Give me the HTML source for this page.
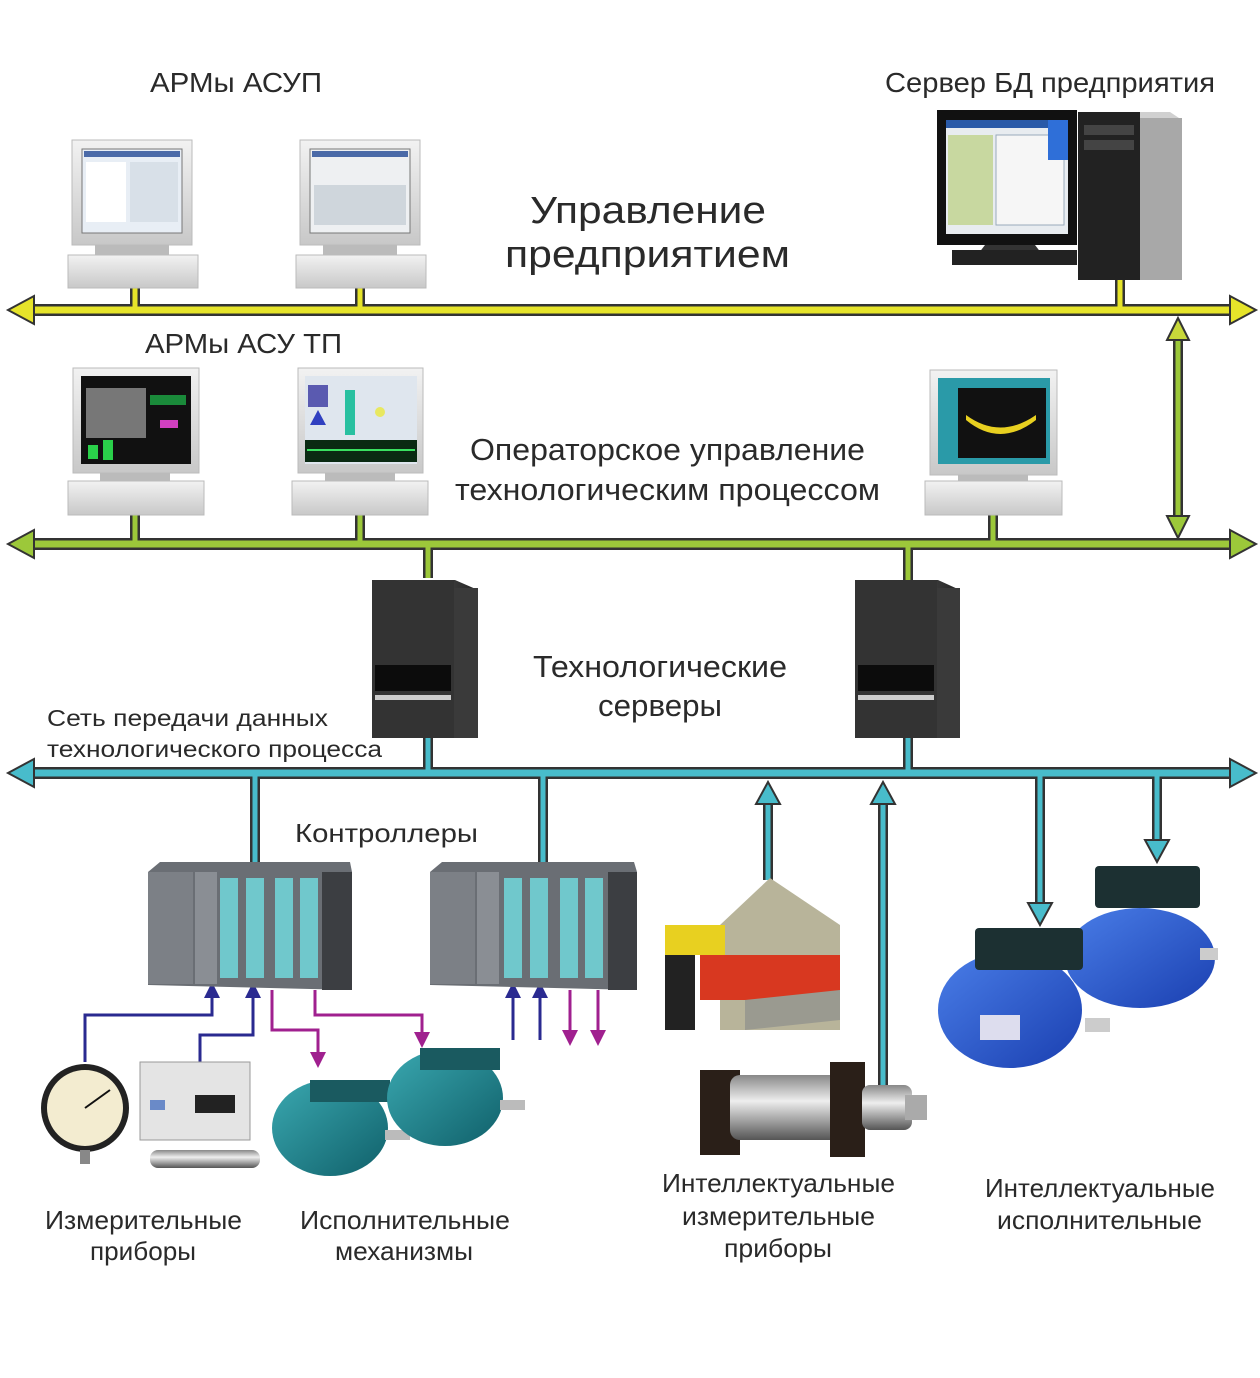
<!DOCTYPE html>
<html><head><meta charset="utf-8"><style>
html,body{margin:0;padding:0;background:#fff;}
svg{display:block;}
text{font-family:"Liberation Sans",sans-serif;fill:#2a2a2a;}
</style></head><body>
<svg width="1260" height="1378" viewBox="0 0 1260 1378" xmlns="http://www.w3.org/2000/svg">
<defs>
<linearGradient id="mon" x1="0" y1="0" x2="0" y2="1"><stop offset="0" stop-color="#f2f2f2"/><stop offset="1" stop-color="#c8c8c8"/></linearGradient>
<linearGradient id="tower" x1="0" y1="0" x2="1" y2="0"><stop offset="0" stop-color="#2a2a2a"/><stop offset="0.6" stop-color="#4a4a4a"/><stop offset="1" stop-color="#222"/></linearGradient>
<linearGradient id="blue" x1="0" y1="0" x2="1" y2="1"><stop offset="0" stop-color="#4a7ee8"/><stop offset="1" stop-color="#1a3fb0"/></linearGradient>
<linearGradient id="teal" x1="0" y1="0" x2="1" y2="1"><stop offset="0" stop-color="#3aa8b0"/><stop offset="1" stop-color="#10606a"/></linearGradient>
<linearGradient id="steel" x1="0" y1="0" x2="0" y2="1"><stop offset="0" stop-color="#888"/><stop offset="0.4" stop-color="#eee"/><stop offset="1" stop-color="#555"/></linearGradient>
</defs>

<!-- ===== connectors: dark outlines ===== -->
<g stroke="#333" stroke-width="12" fill="none" stroke-linecap="butt">
<line x1="28" y1="310" x2="1236" y2="310"/>
<line x1="28" y1="544" x2="1236" y2="544"/>
<line x1="28" y1="773" x2="1236" y2="773"/>
</g>
<g stroke="#333" stroke-width="10" fill="none">
<line x1="135" y1="288" x2="135" y2="306"/><line x1="360" y1="288" x2="360" y2="306"/><line x1="1120" y1="278" x2="1120" y2="306"/>
<line x1="135" y1="514" x2="135" y2="540"/><line x1="360" y1="514" x2="360" y2="540"/><line x1="993" y1="514" x2="993" y2="540"/>
<line x1="1178" y1="338" x2="1178" y2="518"/>
<line x1="428" y1="548" x2="428" y2="578"/><line x1="908" y1="548" x2="908" y2="580"/>
<line x1="428" y1="736" x2="428" y2="770"/><line x1="908" y1="736" x2="908" y2="770"/>
<line x1="255" y1="777" x2="255" y2="868"/><line x1="543" y1="777" x2="543" y2="866"/>
<line x1="768" y1="800" x2="768" y2="880"/><line x1="883" y1="800" x2="883" y2="1105"/>
<line x1="1040" y1="777" x2="1040" y2="905"/><line x1="1157" y1="777" x2="1157" y2="842"/>
</g>
<!-- colored fills -->
<g fill="none">
<line x1="28" y1="310" x2="1236" y2="310" stroke="#e6e42a" stroke-width="7"/>
<line x1="28" y1="544" x2="1236" y2="544" stroke="#9cc83a" stroke-width="7"/>
<line x1="28" y1="773" x2="1236" y2="773" stroke="#48bccb" stroke-width="7"/>
<g stroke="#e6e42a" stroke-width="5">
<line x1="135" y1="288" x2="135" y2="310"/><line x1="360" y1="288" x2="360" y2="310"/><line x1="1120" y1="278" x2="1120" y2="310"/>
</g>
<g stroke="#9cc83a" stroke-width="5">
<line x1="135" y1="514" x2="135" y2="544"/><line x1="360" y1="514" x2="360" y2="544"/><line x1="993" y1="514" x2="993" y2="544"/>
<line x1="1178" y1="336" x2="1178" y2="520"/>
<line x1="428" y1="544" x2="428" y2="578"/><line x1="908" y1="544" x2="908" y2="580"/>
</g>
<g stroke="#48bccb" stroke-width="5">
<line x1="428" y1="736" x2="428" y2="773"/><line x1="908" y1="736" x2="908" y2="773"/>
<line x1="255" y1="773" x2="255" y2="868"/><line x1="543" y1="773" x2="543" y2="866"/>
<line x1="768" y1="800" x2="768" y2="880"/><line x1="883" y1="800" x2="883" y2="1105"/>
<line x1="1040" y1="773" x2="1040" y2="905"/><line x1="1157" y1="773" x2="1157" y2="842"/>
</g>
</g>
<!-- arrowheads -->
<g stroke="#333" stroke-width="2">
<polygon points="8,310 34,296 34,324" fill="#e6e42a"/><polygon points="1256,310 1230,296 1230,324" fill="#e6e42a"/>
<polygon points="8,544 34,530 34,558" fill="#9cc83a"/><polygon points="1256,544 1230,530 1230,558" fill="#9cc83a"/>
<polygon points="8,773 34,759 34,787" fill="#48bccb"/><polygon points="1256,773 1230,759 1230,787" fill="#48bccb"/>
<polygon points="1178,318 1167,340 1189,340" fill="#c8d83a"/><polygon points="1178,538 1167,516 1189,516" fill="#9cc83a"/>
<polygon points="768,782 756,804 780,804" fill="#48bccb"/><polygon points="883,782 871,804 895,804" fill="#48bccb"/>
<polygon points="1040,925 1028,903 1052,903" fill="#48bccb"/><polygon points="1157,862 1145,840 1169,840" fill="#48bccb"/>
</g>

<!-- small IO arrows -->
<g fill="none" stroke-width="3">
<path d="M85 1062 V1015 H212 V995" stroke="#2a2a90"/>
<path d="M200 1062 V1035 H253 V995" stroke="#2a2a90"/>
<path d="M272 990 V1030 H318 V1055" stroke="#a0208f"/>
<path d="M315 990 V1015 H422 V1035" stroke="#a0208f"/>
<path d="M513 1040 V995 M540 1040 V995" stroke="#2a2a90"/>
<path d="M570 990 V1035 M598 990 V1035" stroke="#a0208f"/>
</g>
<g>
<polygon points="212,982 204,998 220,998" fill="#2a2a90"/><polygon points="253,982 245,998 261,998" fill="#2a2a90"/>
<polygon points="513,982 505,998 521,998" fill="#2a2a90"/><polygon points="540,982 532,998 548,998" fill="#2a2a90"/>
<polygon points="318,1068 310,1052 326,1052" fill="#a0208f"/><polygon points="422,1048 414,1032 430,1032" fill="#a0208f"/>
<polygon points="570,1046 562,1030 578,1030" fill="#a0208f"/><polygon points="598,1046 590,1030 606,1030" fill="#a0208f"/>
</g>

<!-- ===== top monitors ===== -->
<g>
<rect x="72" y="140" width="120" height="105" fill="url(#mon)" stroke="#bbb"/>
<rect x="82" y="149" width="100" height="84" fill="#e8eef5" stroke="#777"/>
<rect x="84" y="151" width="96" height="6" fill="#4a6aa8"/>
<rect x="86" y="162" width="40" height="60" fill="#fff"/><rect x="130" y="162" width="48" height="60" fill="#d8e0e8"/>
<rect x="95" y="245" width="74" height="10" fill="#bbb"/>
<rect x="68" y="255" width="130" height="33" fill="url(#mon)" stroke="#bbb"/>
<rect x="300" y="140" width="120" height="105" fill="url(#mon)" stroke="#bbb"/>
<rect x="310" y="149" width="100" height="84" fill="#eef0f2" stroke="#777"/>
<rect x="312" y="151" width="96" height="6" fill="#4a6aa8"/>
<rect x="314" y="185" width="92" height="40" fill="#cfd6dc"/>
<rect x="323" y="245" width="74" height="10" fill="#bbb"/>
<rect x="296" y="255" width="130" height="33" fill="url(#mon)" stroke="#bbb"/>
</g>
<!-- enterprise server -->
<g>
<rect x="937" y="110" width="140" height="135" fill="#111"/>
<rect x="946" y="120" width="122" height="114" fill="#e8ecf0"/>
<rect x="946" y="120" width="122" height="8" fill="#2a5aa8"/>
<rect x="948" y="135" width="45" height="90" fill="#c8d8a0"/>
<rect x="996" y="135" width="68" height="90" fill="#f6f6f6" stroke="#9ab"/>
<rect x="1048" y="120" width="20" height="40" fill="#2f6fd8"/>
<polygon points="985,245 1035,245 1045,258 975,258" fill="#333"/>
<rect x="952" y="250" width="125" height="15" fill="#222"/>
<polygon points="1078,112 1170,112 1182,120 1182,280 1078,280" fill="#d0d0d0"/>
<rect x="1078" y="112" width="62" height="168" fill="#222"/>
<rect x="1084" y="125" width="50" height="10" fill="#444"/><rect x="1084" y="140" width="50" height="10" fill="#444"/>
<rect x="1140" y="118" width="42" height="162" fill="#a8a8a8"/>
</g>

<!-- ===== ASU TP monitors ===== -->
<g>
<rect x="73" y="368" width="126" height="105" fill="url(#mon)" stroke="#bbb"/>
<rect x="81" y="376" width="110" height="88" fill="#111"/>
<rect x="86" y="388" width="60" height="50" fill="#777"/><rect x="150" y="395" width="36" height="10" fill="#1a8a3a"/>
<rect x="88" y="445" width="10" height="14" fill="#2ad04a"/><rect x="103" y="440" width="10" height="20" fill="#2ad04a"/><rect x="160" y="420" width="18" height="8" fill="#d040c0"/>
<rect x="100" y="473" width="70" height="8" fill="#bbb"/>
<rect x="68" y="481" width="136" height="34" fill="url(#mon)" stroke="#bbb"/>
<rect x="298" y="368" width="125" height="105" fill="url(#mon)" stroke="#bbb"/>
<rect x="305" y="376" width="112" height="88" fill="#dfe6ee"/>
<rect x="308" y="385" width="20" height="22" fill="#5a5ab0"/><polygon points="310,425 318,410 326,425" fill="#3040c0"/>
<rect x="345" y="390" width="10" height="45" fill="#28c0a0"/><circle cx="380" cy="412" r="5" fill="#e8e860"/>
<rect x="305" y="440" width="112" height="22" fill="#0a2a12"/><line x1="307" y1="450" x2="415" y2="450" stroke="#3ae060" stroke-width="2"/>
<rect x="325" y="473" width="70" height="8" fill="#bbb"/>
<rect x="292" y="481" width="136" height="34" fill="url(#mon)" stroke="#bbb"/>
<rect x="930" y="370" width="127" height="105" fill="url(#mon)" stroke="#bbb"/>
<rect x="938" y="378" width="112" height="86" fill="#2a9aa8"/>
<rect x="958" y="388" width="88" height="70" fill="#111"/>
<path d="M966 415 Q1000 440 1036 415 L1036 420 Q1000 448 966 420 Z" fill="#e8d020"/>
<rect x="958" y="475" width="70" height="8" fill="#bbb"/>
<rect x="925" y="481" width="137" height="34" fill="url(#mon)" stroke="#bbb"/>
</g>

<!-- ===== tech servers ===== -->
<g>
<polygon points="372,580 455,580 478,590 478,738 372,738" fill="url(#tower)"/>
<rect x="372" y="580" width="82" height="158" fill="#333"/>
<rect x="375" y="665" width="76" height="26" fill="#0c0c0c"/><rect x="375" y="695" width="76" height="5" fill="#ccc"/>
<rect x="454" y="588" width="24" height="150" fill="#3a3a3a"/>
<polygon points="855,580 938,580 960,590 960,738 855,738" fill="url(#tower)"/>
<rect x="855" y="580" width="82" height="158" fill="#333"/>
<rect x="858" y="665" width="76" height="26" fill="#0c0c0c"/><rect x="858" y="695" width="76" height="5" fill="#ccc"/>
<rect x="937" y="588" width="23" height="150" fill="#3a3a3a"/>
</g>

<!-- ===== controllers ===== -->
<g>
<polygon points="148,872 160,862 350,862 352,872 352,990 148,985" fill="#6a6e74"/>
<rect x="148" y="872" width="45" height="112" fill="#7c8086"/>
<rect x="195" y="872" width="22" height="112" fill="#8a8e94"/>
<rect x="220" y="878" width="18" height="100" fill="#70c8cc"/><rect x="246" y="878" width="18" height="100" fill="#70c8cc"/>
<rect x="275" y="878" width="18" height="100" fill="#70c8cc"/><rect x="300" y="878" width="18" height="100" fill="#70c8cc"/>
<rect x="322" y="872" width="30" height="118" fill="#3c3e42"/>
<polygon points="430,872 442,862 634,862 637,872 637,990 430,985" fill="#6a6e74"/>
<rect x="430" y="872" width="45" height="112" fill="#7c8086"/>
<rect x="477" y="872" width="22" height="112" fill="#8a8e94"/>
<rect x="504" y="878" width="18" height="100" fill="#70c8cc"/><rect x="530" y="878" width="18" height="100" fill="#70c8cc"/>
<rect x="560" y="878" width="18" height="100" fill="#70c8cc"/><rect x="585" y="878" width="18" height="100" fill="#70c8cc"/>
<rect x="608" y="872" width="29" height="118" fill="#3c3e42"/>
</g>

<!-- ===== field devices ===== -->
<g>
<circle cx="85" cy="1108" r="44" fill="#222"/><circle cx="85" cy="1108" r="38" fill="#f3ecd0"/>
<line x1="85" y1="1108" x2="110" y2="1090" stroke="#111" stroke-width="2"/>
<rect x="80" y="1150" width="10" height="14" fill="#888"/>
<rect x="140" y="1062" width="110" height="78" fill="#e4e4e4" stroke="#999"/>
<rect x="195" y="1095" width="40" height="18" fill="#222"/><rect x="150" y="1100" width="15" height="10" fill="#6a8ac8"/>
<rect x="150" y="1150" width="110" height="18" rx="8" fill="url(#steel)"/>
<ellipse cx="330" cy="1128" rx="58" ry="48" fill="url(#teal)"/><rect x="310" y="1080" width="80" height="22" fill="#1a5a60"/>
<rect x="385" y="1130" width="25" height="10" fill="#bbb"/>
<ellipse cx="445" cy="1098" rx="58" ry="48" fill="url(#teal)"/><rect x="420" y="1048" width="80" height="22" fill="#1a5a60"/>
<rect x="500" y="1100" width="25" height="10" fill="#bbb"/>
<!-- press -->
<polygon points="720,925 770,878 840,925 840,1030 720,1030" fill="#b8b49a"/>
<rect x="665" y="925" width="60" height="30" fill="#e8d020"/>
<rect x="700" y="955" width="140" height="45" fill="#d83820"/>
<rect x="665" y="955" width="30" height="75" fill="#222"/>
<polygon points="745,1000 840,990 840,1020 745,1030" fill="#9a9a90"/>
<!-- rotary sensor -->
<rect x="700" y="1070" width="40" height="85" fill="#2a1f18"/>
<rect x="730" y="1075" width="110" height="65" rx="10" fill="url(#steel)"/>
<rect x="830" y="1062" width="35" height="95" fill="#2a1f18"/>
<rect x="862" y="1085" width="50" height="45" rx="8" fill="url(#steel)"/><rect x="905" y="1095" width="22" height="25" fill="#aaa"/>
<!-- blue motors -->
<ellipse cx="1140" cy="958" rx="75" ry="50" fill="url(#blue)"/><rect x="1095" y="866" width="105" height="42" rx="4" fill="#1c3032"/>
<rect x="1200" y="948" width="18" height="12" fill="#ccc"/>
<ellipse cx="1010" cy="1010" rx="72" ry="58" fill="url(#blue)"/><rect x="975" y="928" width="108" height="42" rx="4" fill="#1c3032"/>
<rect x="1085" y="1018" width="25" height="14" fill="#ccc"/><rect x="980" y="1015" width="40" height="25" fill="#dde"/>
</g>

<!-- ===== labels ===== -->
<g>
<text x="150" y="92" font-size="28" textLength="172" lengthAdjust="spacingAndGlyphs">АРМы АСУП</text>
<text x="885" y="92" font-size="28" textLength="330" lengthAdjust="spacingAndGlyphs">Сервер БД предприятия</text>
<text x="530" y="223" font-size="38" textLength="236" lengthAdjust="spacingAndGlyphs">Управление</text>
<text x="505" y="267" font-size="38" textLength="285" lengthAdjust="spacingAndGlyphs">предприятием</text>
<text x="145" y="353" font-size="28" textLength="197" lengthAdjust="spacingAndGlyphs">АРМы АСУ ТП</text>
<text x="470" y="460" font-size="31" textLength="395" lengthAdjust="spacingAndGlyphs">Операторское управление</text>
<text x="455" y="500" font-size="31" textLength="425" lengthAdjust="spacingAndGlyphs">технологическим процессом</text>
<text x="533" y="677" font-size="31" textLength="254" lengthAdjust="spacingAndGlyphs">Технологические</text>
<text x="598" y="716" font-size="31" textLength="124" lengthAdjust="spacingAndGlyphs">серверы</text>
<text x="47" y="726" font-size="23" textLength="281" lengthAdjust="spacingAndGlyphs">Сеть передачи данных</text>
<text x="47" y="757" font-size="23" textLength="335" lengthAdjust="spacingAndGlyphs">технологического процесса</text>
<text x="295" y="842" font-size="26" textLength="183" lengthAdjust="spacingAndGlyphs">Контроллеры</text>
<text x="45" y="1229" font-size="26" textLength="197" lengthAdjust="spacingAndGlyphs">Измерительные</text>
<text x="90" y="1260" font-size="26" textLength="106" lengthAdjust="spacingAndGlyphs">приборы</text>
<text x="300" y="1229" font-size="26" textLength="210" lengthAdjust="spacingAndGlyphs">Исполнительные</text>
<text x="335" y="1260" font-size="26" textLength="138" lengthAdjust="spacingAndGlyphs">механизмы</text>
<text x="662" y="1192" font-size="26" textLength="233" lengthAdjust="spacingAndGlyphs">Интеллектуальные</text>
<text x="682" y="1225" font-size="26" textLength="193" lengthAdjust="spacingAndGlyphs">измерительные</text>
<text x="724" y="1257" font-size="26" textLength="108" lengthAdjust="spacingAndGlyphs">приборы</text>
<text x="985" y="1197" font-size="26" textLength="230" lengthAdjust="spacingAndGlyphs">Интеллектуальные</text>
<text x="997" y="1229" font-size="26" textLength="205" lengthAdjust="spacingAndGlyphs">исполнительные</text>
</g>
</svg>
</body></html>
